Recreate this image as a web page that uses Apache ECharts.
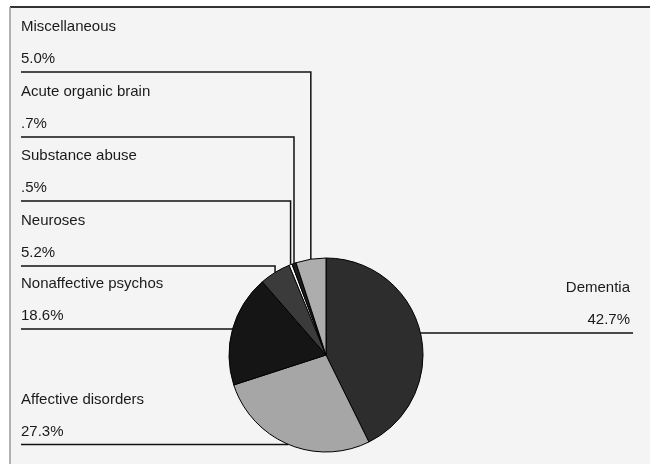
<!DOCTYPE html>
<html><head><meta charset="utf-8">
<script src="https://cdn.jsdelivr.net/npm/echarts@6/dist/echarts.min.js"></script>
<style>html,body{margin:0;padding:0;background:#fff}#c{width:650px;height:464px}</style>
</head><body><div id="c"></div>
<script>
// ---- data ----
const categories = ['Dementia', 'Affective disorders', 'Nonaffective psychos', 'Neuroses', 'Substance abuse', 'Acute organic brain', 'Miscellaneous'];
const percentages = [42.7, 27.3, 18.6, 5.2, 0.5, 0.7, 5.0];

// ---- styling / layout ----
const sliceColors = ['#2d2d2d', '#a6a6a6', '#151515', '#3b3b3b', '#ffffff', '#1c1c1c', '#adadad'];
const labelLineY = [null, null, null, 266, 201, 137, 72]; // null = horizontal from slice edge
const PIE_CENTER = [326, 355];
const PIE_RADIUS = 97;
const LEFT_X = 21, RIGHT_TEXT_X = 630, RIGHT_LINE_X = 633;

function fmtPct(v) { let s = v.toFixed(1); if (s.charAt(0) === '0') s = s.slice(1); return s + '%'; }

const chart = echarts.init(document.getElementById('c'), null, { renderer: 'canvas' });
chart.setOption({
  backgroundColor: '#ffffff',
  animation: false,
  graphic: [
    { type: 'rect', z: -10, silent: true, shape: { x: 10, y: 7, width: 660, height: 480 }, style: { fill: '#f4f4f4' } },
    { type: 'line', silent: true, shape: { x1: 10, y1: 7, x2: 650, y2: 7 }, style: { stroke: '#333', lineWidth: 2 } },
    { type: 'line', silent: true, shape: { x1: 10, y1: 7, x2: 10, y2: 464 }, style: { stroke: '#999', lineWidth: 1.5 } }
  ],
  series: [{
    type: 'pie',
    center: PIE_CENTER,
    radius: PIE_RADIUS,
    startAngle: 90,
    clockwise: true,
    avoidLabelOverlap: false,
    data: categories.map((n, i) => ({ name: n, value: percentages[i], itemStyle: { color: sliceColors[i] } })),
    itemStyle: { borderColor: '#000', borderWidth: 1 },
    emphasis: { disabled: true },
    label: {
      show: true,
      formatter: p => p.name + '\n' + fmtPct(p.value),
      fontFamily: 'Liberation Sans, Arial, sans-serif',
      fontSize: 15,
      lineHeight: 32,
      color: '#1a1a1a'
    },
    labelLine: { show: true, length: 10, length2: 10, lineStyle: { color: '#111', width: 1.5 } },
    labelLayout: function (params) {
      const i = params.dataIndex;
      const p0 = params.labelLinePoints[0];
      const isRight = p0[0] > PIE_CENTER[0];
      const ly = labelLineY[i] == null ? p0[1] : labelLineY[i];
      const endX = isRight ? RIGHT_LINE_X : LEFT_X;
      const pts = labelLineY[i] == null
        ? [[p0[0], ly], [endX, ly]]
        : [[p0[0], p0[1]], [p0[0], ly], [endX, ly]];
      return {
        x: isRight ? RIGHT_TEXT_X : LEFT_X,
        y: ly + 3,
        align: isRight ? 'right' : 'left',
        verticalAlign: 'bottom',
        labelLinePoints: pts
      };
    }
  }]
});
</script>
</body></html>
